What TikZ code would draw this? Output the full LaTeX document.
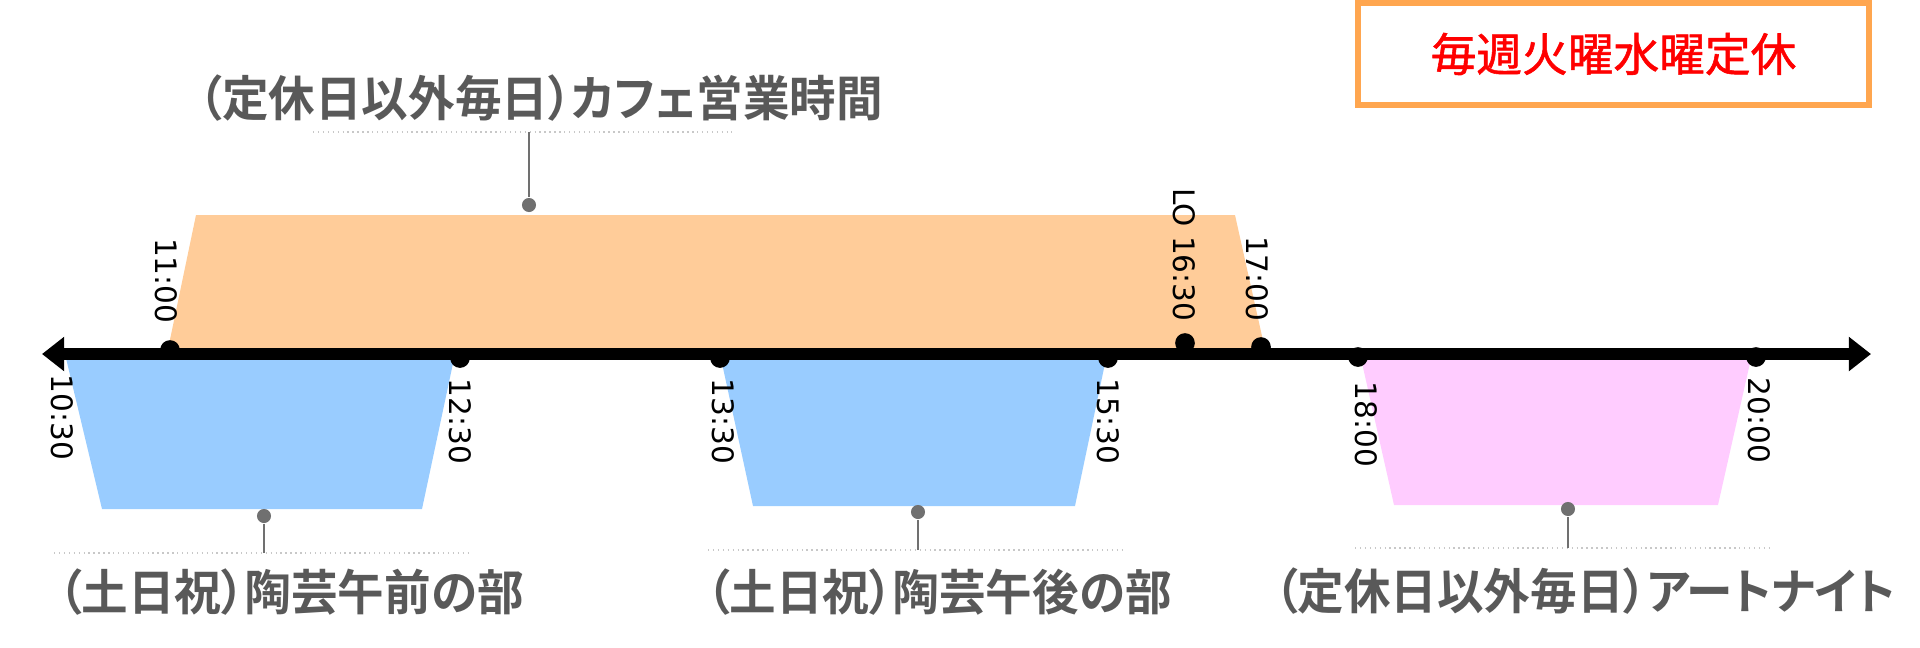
\documentclass[tikz,border=0pt]{standalone}
\usepackage{fontspec}
\setmainfont{DejaVu Sans}
\newfontfamily\jpb[RawFeature=+palt,FakeStretch=0.96]{Noto Sans CJK JP Bold}
\newfontfamily\jpr[FakeBold=1.2]{Noto Sans CJK JP}
\usetikzlibrary{arrows.meta}
\definecolor{cafe}{HTML}{FFCC99}
\definecolor{pottery}{HTML}{99CCFF}
\definecolor{artnight}{HTML}{FFCCFF}
\definecolor{boxorange}{HTML}{FFA64F}
\definecolor{textgray}{HTML}{595959}
\definecolor{leadgray}{HTML}{707070}
\definecolor{rulegray}{HTML}{C8C8C8}

\begin{document}
\begin{tikzpicture}[x=0.01cm,y=-0.01cm,
  hdot/.style={circle,fill=black,inner sep=0pt,minimum size=5.6pt},
  gdot/.style={circle,fill=leadgray,inner sep=0pt,minimum size=4pt},
  hour/.style={rotate=-90,inner sep=0pt,font=\fontsize{8.4}{9}\selectfont},
  heading/.style={inner sep=0pt,text=textgray,font=\jpb\fontsize{13.8}{16}\selectfont},
  lead/.style={leadgray,line width=0.5pt},
  rule/.style={rulegray,line width=0.4pt,densely dotted}]

  \useasboundingbox (0,0) rectangle (1920,647);

  \fill[cafe] (196,215) -- (1235,215) -- (1266,354) -- (167,354) -- cycle;
  \fill[pottery] (65,354) -- (455,354) -- (422,509) -- (102,509) -- cycle;
  \fill[pottery] (720,354) -- (1107,354) -- (1075,506) -- (753,506) -- cycle;
  \fill[artnight] (1360,354) -- (1752,354) -- (1718,505) -- (1394,505) -- cycle;

  \coordinate (L) at (42,354);
  \coordinate (R) at (1871,354);
  \draw[line width=3.4pt,{Triangle[length=6.3pt,width=9.4pt]}-{Triangle[length=6.3pt,width=9.4pt]}] (L) -- (R);

  \node[hdot] (t1100) at (170,350) {};
  \node[hdot] (t1230) at (460,358) {};
  \node[hdot] (t1330) at (720,358) {};
  \node[hdot] (t1530) at (1108,358) {};
  \node[hdot] (t1630) at (1185,343) {};
  \node[hdot] (t1700) at (1261,347) {};
  \node[hdot] (t1800) at (1358,357) {};
  \node[hdot] (t2000) at (1756,357) {};

  \node[hour,anchor=east] (l1100) at (166,324) {11:00};
  \node[hour,anchor=east] (l1630) at (1184,322) {LO 16:30};
  \node[hour,anchor=east] (l1700) at (1257,322) {17:00};
  \node[hour,anchor=west] (l1030) at (62,374) {10:30};
  \node[hour,anchor=west] (l1230) at (460,378) {12:30};
  \node[hour,anchor=west] (l1330) at (723,378) {13:30};
  \node[hour,anchor=west] (l1530) at (1108,378) {15:30};
  \node[hour,anchor=west] (l1800) at (1366,381) {18:00};
  \node[hour,anchor=west] (l2000) at (1759,377) {20:00};

  \draw[rule] (313,132) -- (732,132);
  \draw[rule] (54,553) -- (470,553);
  \draw[rule] (708,550) -- (1125,550);
  \draw[rule] (1355,548) -- (1771,548);

  \coordinate (c0) at (529,132);
  \coordinate (a0) at (264,553);
  \coordinate (p0) at (918,550);
  \coordinate (n0) at (1568,548);
  \node[gdot] (c1) at (529,205) {};
  \node[gdot] (a1) at (264,516) {};
  \node[gdot] (p1) at (918,512) {};
  \node[gdot] (n1) at (1568,509) {};
  \path[lead]
    (c0) edge (c1)
    (a0) edge (a1)
    (p0) edge (p1)
    (n0) edge (n1);

  \node[heading] (cafetime) at (541,98) {（定休日以外毎日）カフェ営業時間};
  \node[heading] (morning) at (291,592) {（土日祝）陶芸午前の部};
  \node[heading] (afternoon) at (939,592) {（土日祝）陶芸午後の部};
  \node[heading] (artnite) at (1585,591) {（定休日以外毎日）アートナイト};

  \node[draw=boxorange,line width=1.7pt,minimum width=5.11cm,minimum height=1.02cm,
    text=red,font=\jpr\fontsize{13}{15}\selectfont] (closed) at (1613.5,54) {毎週火曜水曜定休};
\end{tikzpicture}
\end{document}
